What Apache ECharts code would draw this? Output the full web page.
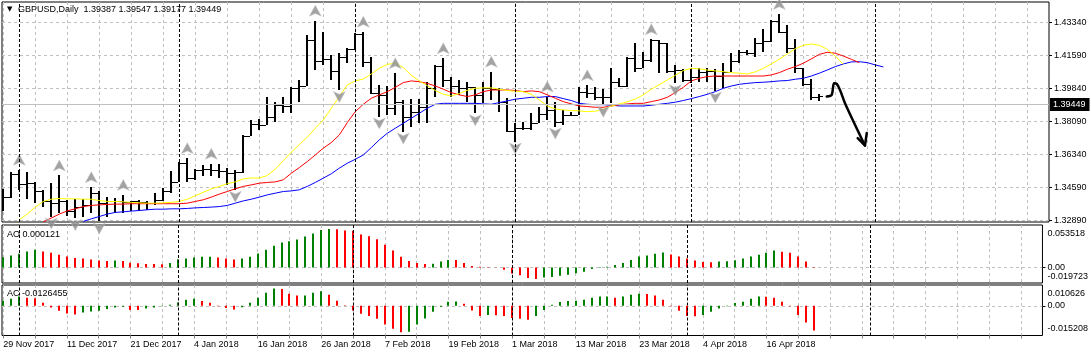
<!DOCTYPE html>
<html><head><meta charset="utf-8">
<script src="https://cdn.jsdelivr.net/npm/echarts@6/dist/echarts.min.js"></script>
<style>html,body{margin:0;padding:0;background:#fff}#c{width:1091px;height:357px}</style>
</head><body><div id="c"></div>
<script>
// ---------------- data ----------------
const symbolName = 'GBPUSD,Daily';
const barOpen = [1.3394,1.3408,1.3530,1.3477,1.3482,1.3443,1.3388,1.3376,1.3385,1.3332,
1.3358,1.3367,1.3429,1.3376,1.3385,1.3385,1.3380,1.3385,1.3380,1.3376,
1.3394,1.3438,1.3491,1.3588,1.3509,1.3551,1.3556,1.3553,1.3549,1.3535,
1.3539,1.3733,1.3797,1.3792,1.3832,1.3898,1.3892,1.3986,1.3998,1.4242,
1.4133,1.4140,1.4078,1.4154,1.4193,1.4272,1.4127,1.3963,1.3951,1.3880,
1.3915,1.3836,1.3862,1.3889,1.3986,1.4104,1.4030,1.3998,1.3986,1.3995,
1.3951,1.3986,1.3981,1.3915,1.3760,1.3774,1.3777,1.3804,1.3850,1.3871,
1.3809,1.3845,1.3845,1.3968,1.3959,1.3942,1.3938,1.4021,1.3998,1.4145,
1.4092,1.4136,1.4242,1.4225,1.4078,1.4083,1.4030,1.4044,1.4074,1.4080,
1.4051,1.4074,1.4131,1.4180,1.4175,1.4228,1.4239,1.4343,1.4286,1.4198,
1.4092,1.4009,1.39387];
const barHigh = [1.3450,1.3544,1.3553,1.3541,1.3486,1.3447,1.3482,1.3523,1.3394,1.3397,
1.3397,1.3461,1.3443,1.3411,1.3401,1.3420,1.3388,1.3392,1.3388,1.3429,
1.3454,1.3548,1.3593,1.3615,1.3556,1.3579,1.3585,1.3583,1.3562,1.3553,
1.3738,1.3818,1.3823,1.3942,1.3915,1.3942,1.3991,1.4030,1.4269,1.4345,
1.4286,1.4163,1.4172,1.4198,1.4281,1.4286,1.4154,1.4004,1.3998,1.4066,
1.3924,1.3929,1.3929,1.4021,1.4110,1.4145,1.4048,1.4030,1.4021,1.3995,
1.4021,1.4074,1.3986,1.3933,1.3800,1.3809,1.3853,1.3889,1.3942,1.3915,
1.3871,1.3862,1.3991,1.4002,1.3991,1.3981,1.4092,1.4039,1.4154,1.4225,
1.4180,1.4246,1.4242,1.4228,1.4110,1.4088,1.4092,1.4092,1.4092,1.4089,
1.4119,1.4172,1.4189,1.4189,1.4251,1.4299,1.4348,1.4380,1.4322,1.4246,
1.4092,1.4034,1.39547];
const barLow = [1.3335,1.3403,1.3447,1.3397,1.3376,1.3358,1.3305,1.3323,1.3310,1.3297,
1.3302,1.3323,1.3279,1.3305,1.3323,1.3323,1.3332,1.3337,1.3341,1.3367,
1.3385,1.3429,1.3491,1.3491,1.3500,1.3518,1.3518,1.3509,1.3473,1.3447,
1.3535,1.3730,1.3765,1.3792,1.3809,1.3853,1.3853,1.3915,1.3998,1.4083,
1.4110,1.4030,1.3977,1.4119,1.4189,1.4101,1.3956,1.3836,1.3845,1.3845,
1.3756,1.3783,1.3800,1.3800,1.3942,1.3995,1.3942,1.3951,1.3915,1.3853,
1.3906,1.3924,1.3862,1.3756,1.3703,1.3765,1.3765,1.3804,1.3818,1.3783,
1.3792,1.3839,1.3843,1.3933,1.3924,1.3898,1.3906,1.3995,1.3995,1.4074,
1.4092,1.4127,1.4066,1.4069,1.4012,1.4021,1.4016,1.4021,1.4021,1.3974,
1.3986,1.4074,1.4119,1.4163,1.4154,1.4180,1.4233,1.4281,1.4172,1.4069,
1.3998,1.3924,1.39177];
const barClose = [1.3408,1.3530,1.3477,1.3482,1.3443,1.3388,1.3376,1.3385,1.3332,1.3358,
1.3367,1.3429,1.3376,1.3385,1.3385,1.3380,1.3385,1.3380,1.3376,1.3394,
1.3438,1.3491,1.3588,1.3509,1.3551,1.3556,1.3553,1.3549,1.3535,1.3539,
1.3733,1.3797,1.3792,1.3832,1.3898,1.3892,1.3986,1.3998,1.4242,1.4133,
1.4140,1.4078,1.4154,1.4193,1.4272,1.4127,1.3963,1.3951,1.3880,1.3915,
1.3836,1.3862,1.3889,1.3986,1.4104,1.4030,1.3998,1.3986,1.3995,1.3951,
1.3986,1.3981,1.3915,1.3760,1.3774,1.3777,1.3804,1.3850,1.3871,1.3809,
1.3845,1.3845,1.3968,1.3959,1.3942,1.3938,1.4021,1.3998,1.4145,1.4092,
1.4136,1.4242,1.4225,1.4078,1.4083,1.4030,1.4044,1.4074,1.4080,1.4051,
1.4074,1.4131,1.4180,1.4175,1.4228,1.4239,1.4343,1.4286,1.4198,1.4092,
1.4009,1.3938,1.39449];

// Alligator lines (first bar index + values)
const lipsStart = 2;
const lipsValues = [1.3288,1.3318,1.3355,1.3385,1.3397,1.3401,1.3399,1.3399,1.3397,1.3397,
1.3390,1.3385,1.3385,1.3383,1.3380,1.3378,1.3376,1.3376,1.3378,1.3380,
1.3385,1.3397,1.3415,1.3434,1.3452,1.3465,1.3479,1.3489,1.3505,1.3510,
1.3509,1.3523,1.3556,1.3602,1.3647,1.3687,1.3726,1.3774,1.3818,1.3880,
1.3942,1.4004,1.4025,1.4035,1.4062,1.4092,1.4113,1.4119,1.4096,1.4055,
1.4025,1.4000,1.3974,1.3954,1.3945,1.3958,1.3975,1.3986,1.3988,1.3988,
1.3981,1.3974,1.3970,1.3968,1.3954,1.3924,1.3892,1.3876,1.3871,1.3868,
1.3866,1.3862,1.3864,1.3875,1.3892,1.3903,1.3914,1.3929,1.3951,1.3981,
1.4005,1.4030,1.4055,1.4080,1.4092,1.4089,1.4083,1.4078,1.4074,1.4069,
1.4066,1.4062,1.4073,1.4092,1.4115,1.4140,1.4168,1.4196,1.4214,1.4221,
1.4214,1.4193,1.4157,1.4113];
const teethStart = 5;
const teethValues = [1.3277,1.3297,1.3318,1.3335,1.3346,1.3358,1.3364,1.3367,1.3369,1.3371,
1.3371,1.3373,1.3373,1.3373,1.3373,1.3373,1.3373,1.3373,1.3376,1.3385,
1.3394,1.3408,1.3424,1.3438,1.3452,1.3465,1.3473,1.3482,1.3486,1.3489,
1.3500,1.3535,1.3565,1.3597,1.3632,1.3668,1.3698,1.3738,1.3804,1.3862,
1.3901,1.3933,1.3951,1.3968,1.3991,1.4016,1.4025,1.4021,1.4012,1.3998,
1.3981,1.3963,1.3951,1.3942,1.3951,1.3968,1.3977,1.3977,1.3977,1.3974,
1.3968,1.3972,1.3968,1.3951,1.3933,1.3915,1.3903,1.3892,1.3889,1.3885,
1.3885,1.3892,1.3898,1.3903,1.3906,1.3906,1.3915,1.3924,1.3938,1.3963,
1.3991,1.4025,1.4039,1.4048,1.4051,1.4051,1.4051,1.4051,1.4051,1.4051,
1.4051,1.4057,1.4069,1.4087,1.4101,1.4119,1.4142,1.4166,1.4177,1.4172,
1.4157,1.4140,1.4122];
const jawStart = 10;
const jawValues = [1.3279,1.3293,1.3305,1.3318,1.3327,1.3330,1.3334,1.3337,1.3341,1.3344,
1.3344,1.3346,1.3346,1.3348,1.3351,1.3353,1.3355,1.3358,1.3364,1.3376,
1.3388,1.3397,1.3408,1.3420,1.3429,1.3438,1.3441,1.3447,1.3465,1.3486,
1.3509,1.3532,1.3562,1.3588,1.3609,1.3632,1.3671,1.3712,1.3747,1.3774,
1.3800,1.3827,1.3853,1.3880,1.3901,1.3906,1.3906,1.3906,1.3906,1.3906,
1.3903,1.3901,1.3910,1.3919,1.3928,1.3933,1.3938,1.3938,1.3942,1.3942,
1.3931,1.3921,1.3906,1.3901,1.3899,1.3899,1.3896,1.3892,1.3892,1.3892,
1.3892,1.3896,1.3901,1.3906,1.3912,1.3921,1.3931,1.3942,1.3954,1.3968,
1.3986,1.3998,1.4007,1.4012,1.4016,1.4018,1.4021,1.4025,1.4027,1.4034,
1.4039,1.4051,1.4066,1.4083,1.4101,1.4115,1.4126,1.4127,1.4122,1.4110,
1.4099];

// Fractals (bar indices)
const fractalUp = [2,7,11,15,23,26,39,45,49,55,61,68,73,81,97];
const fractalDown = [6,9,12,29,42,47,50,59,64,69,75,84,89];

// Awesome / Accelerator oscillators
const aoValues = [0.0128,0.0150,0.0171,0.0201,0.0223,0.0201,0.0184,0.0158,0.0137,0.0120,
0.0111,0.0099,0.0086,0.0081,0.0086,0.0081,0.0060,0.0051,0.0043,0.0042,
0.0041,0.0056,0.0103,0.0111,0.0124,0.0133,0.0134,0.0124,0.0111,0.0099,
0.0111,0.0133,0.0176,0.0223,0.0274,0.0313,0.0330,0.0351,0.0390,0.0428,
0.0471,0.0484,0.0480,0.0467,0.0463,0.0415,0.0394,0.0355,0.0287,0.0214,
0.0133,0.0081,0.0056,0.0043,0.0047,0.0073,0.0094,0.0093,0.0056,0.0017,
0.0009,0.0004,-0.0002,-0.0030,-0.0077,-0.0099,-0.0133,-0.0146,-0.0128,-0.0120,
-0.0107,-0.0094,-0.0073,-0.0056,-0.0021,-0.0009,0.0009,0.0030,0.0056,0.0094,
0.0137,0.0150,0.0171,0.0188,0.0163,0.0137,0.0111,0.0086,0.0069,0.0064,
0.0073,0.0077,0.0090,0.0111,0.0137,0.0158,0.0184,0.0214,0.0197,0.0184,
0.0137,0.0073,0.000121];
const acValues = [0.0026,0.0036,0.0048,0.0041,0.0038,0.0016,-0.0009,-0.0026,-0.0040,-0.0045,
-0.0034,-0.0029,-0.0026,-0.0017,-0.0009,-0.0005,-0.0021,-0.0022,-0.0014,-0.0009,
-0.0003,0.0005,0.0017,0.0031,0.0036,0.0024,0.0016,-0.0003,-0.0012,-0.0019,
-0.0007,0.0016,0.0041,0.0067,0.0088,0.0086,0.0062,0.0052,0.0053,0.0067,
0.0074,0.0057,0.0026,0.0001,-0.0024,-0.0041,-0.0052,-0.0067,-0.0096,-0.0117,
-0.0136,-0.0133,-0.0096,-0.0065,-0.0031,-0.0005,0.0021,0.0022,0.0010,-0.0024,
-0.0052,-0.0047,-0.0048,-0.0052,-0.0062,-0.0067,-0.0072,-0.0052,-0.0021,0.0005,
0.0019,0.0024,0.0026,0.0031,0.0041,0.0047,0.0048,0.0041,0.0047,0.0057,
0.0062,0.0060,0.0052,0.0031,-0.0001,-0.0026,-0.0052,-0.0053,-0.0047,-0.0031,
-0.0014,-0.0002,0.0014,0.0021,0.0036,0.0047,0.0046,0.0041,0.0021,-0.0002,
-0.0047,-0.0086,-0.0126455];
const aoScale = [-0.019723, 0.053518];
const acScale = [-0.015208, 0.010626];

// Axis ticks / labels
const priceTicks = [1.3284,1.3459,1.3634,1.3809,1.3984,1.4159,1.4334];
const priceTickLabels = ['1.32890','1.34590','1.36340','1.38090','1.39840','1.41590','1.43340'];
const dateTickIdx = [0,8,16,24,32,40,48,56,64,72,80,88,96];
const dateTickLabels = ['29 Nov 2017','11 Dec 2017','21 Dec 2017','4 Jan 2018','16 Jan 2018','26 Jan 2018',
  '7 Feb 2018','19 Feb 2018','1 Mar 2018','13 Mar 2018','23 Mar 2018','4 Apr 2018','16 Apr 2018'];
const periodSeparators = [2,22,44,64,86,109];

// hand-drawn forecast arrow (bar index, price)
const arrowPath = [[102.93,1.3942],[103.55,1.3951],[103.84,1.4013],[104.18,1.4009],[104.59,1.3977],[105.21,1.3907],[107.71,1.3682]];
const arrowHead = [[106.8,1.3721],[107.71,1.3682],[107.93,1.3748]];

// ---------------- chart ----------------
const N = barClose.length;
const last = N - 1;
const FONT = 'Liberation Sans';
const X_MIN = -0.1625, X_MAX = 130.7125;
const gridTicks = []; for (let i = 0; i <= 128; i += 4) gridTicks.push(i);
const GRID_LINE = {color:'#c0c0c0', type:[3,3], width:1};
const SEP_LINE = {color:'#000', type:[3,2], width:1};
const GREEN = '#008000', RED = '#ff0000';

const ohlcData = barClose.map((c, i) => [i, barOpen[i], barHigh[i], barLow[i], c]);
const toLine = (start, vals) => vals.map((v, k) => [start + k, v]);
const histData = vals => vals.map((v, i) => [i, v, i === 0 ? 1 : (v >= vals[i-1] ? 1 : 0)]);

function xAxisCfg(gridIndex, showLabels) {
  return {
    type:'value', gridIndex, min:X_MIN, max:X_MAX, position:'bottom',
    axisLine:{show:false, onZero:false},
    axisTick: showLabels
      ? {show:true, length:3, lineStyle:{color:'#808080'}, customValues:gridTicks}
      : {show:false, customValues:gridTicks},
    axisLabel: showLabels ? {
      show:true, customValues:dateTickIdx, align:'left', margin:5,
      fontFamily:FONT, fontSize:9, color:'#000',
      formatter: v => dateTickLabels[dateTickIdx.indexOf(Math.round(v))] || ''
    } : {show:false},
    splitLine:{show:true, lineStyle:GRID_LINE}
  };
}
function subYAxis(gridIndex, scale, digits) {
  const [lo, hi] = scale;
  const base = {fontFamily:FONT, fontSize:9, color:'#000'};
  return {
    type:'value', gridIndex, position:'right', min:lo, max:hi,
    axisLine:{show:false, onZero:false},
    axisTick:{show:true, length:3, lineStyle:{color:'#000'}, customValues:[0]},
    splitLine:{show:true, lineStyle:GRID_LINE},
    axisLabel:{
      customValues:[lo, 0, hi], margin:5, ...base,
      formatter: v => v > 0 ? '{t|' + hi.toFixed(digits) + '}' : (v < 0 ? '{b|' + lo.toFixed(digits) + '}' : '{m|0.00}'),
      rich:{ t:{...base, padding:[18,0,0,0]}, b:{...base, padding:[0,0,13,0]}, m:{...base} }
    }
  };
}
function ohlcItem(params, api) {
  const i = api.value(0);
  const o = api.coord([i, api.value(1)]), h = api.coord([i, api.value(2)]);
  const l = api.coord([i, api.value(3)]), c = api.coord([i, api.value(4)]);
  const x = Math.round(h[0]);
  return {type:'group', children:[
    {type:'rect', shape:{x:x-1, y:Math.round(h[1]), width:2, height:Math.max(1, Math.round(l[1]) - Math.round(h[1]))}, style:{fill:'#000'}},
    {type:'rect', shape:{x:x-4, y:Math.round(o[1]), width:3, height:1}, style:{fill:'#000'}},
    {type:'rect', shape:{x:x+1, y:Math.round(c[1]), width:3, height:1}, style:{fill:'#000'}}
  ]};
}
function histItem(params, api) {
  const i = api.value(0), v = api.value(1);
  const top = api.coord([i, Math.max(v, 0)]), bot = api.coord([i, Math.min(v, 0)]);
  const x = Math.round(top[0]);
  return {type:'rect', shape:{x:x-1, y:top[1], width:2, height:Math.max(bot[1]-top[1], 0.4)},
          style:{fill: api.value(2) ? GREEN : RED}};
}
const sepMarkLine = extra => ({
  silent:true, symbol:'none', animation:false,
  label:{show:false}, lineStyle:SEP_LINE,
  data: periodSeparators.map(v => ({xAxis:v})).concat(extra || [])
});
const upSym = 'path://M6,0 L12,12 L6,9 L0,12 Z';
const downSym = 'path://M0,0 L6,3 L12,0 L6,12 Z';
const txt = {fontFamily:FONT, fontSize:9, color:'#000', fontWeight:'normal'};

const option = {
  animation:false,
  backgroundColor:'#fff',
  title:[
    {text:'{tri|▼}' + symbolName + '  ' + [barOpen[last], barHigh[last], barLow[last], barClose[last]].map(v => v.toFixed(5)).join(' '),
     left:7, top:5, padding:0,
     textStyle:{...txt, rich:{tri:{fontFamily:'DejaVu Sans', fontSize:7, color:'#000', width:11, align:'left'}}}},
    {text:'AO ' + aoValues[last].toFixed(6), left:7, top:230, padding:0, textStyle:txt},
    {text:'AC ' + acValues[last].toFixed(7), left:7, top:289, padding:0, textStyle:txt}
  ],
  grid:[
    {left:2, right:42, top:2, height:220, show:true, borderColor:'#000', borderWidth:1, backgroundColor:'#fff'},
    {left:2, right:42, top:225, height:58, show:true, borderColor:'#000', borderWidth:1, backgroundColor:'#fff'},
    {left:2, right:42, top:285, height:50.5, show:true, borderColor:'#000', borderWidth:1, backgroundColor:'#fff'}
  ],
  xAxis:[xAxisCfg(0,false), xAxisCfg(1,false), xAxisCfg(2,true)],
  yAxis:[
    {type:'value', gridIndex:0, position:'right', min:1.3276, max:1.4444,
     axisLine:{show:false, onZero:false},
     axisTick:{show:true, length:3, lineStyle:{color:'#000'}, customValues:priceTicks},
     axisLabel:{customValues:priceTicks, margin:5, fontFamily:FONT, fontSize:9, color:'#000',
       formatter: v => { const k = priceTicks.findIndex(p => Math.abs(p - v) < 1e-7); return k >= 0 ? priceTickLabels[k] : ''; }},
     splitLine:{show:true, lineStyle:GRID_LINE}},
    subYAxis(1, aoScale, 6),
    subYAxis(2, acScale, 6)
  ],
  series:[
    {type:'custom', name:'bars', xAxisIndex:0, yAxisIndex:0, clip:true, renderItem:ohlcItem,
     encode:{x:0, y:[1,2,3,4]}, data:ohlcData, z:2,
     markLine: sepMarkLine([{yAxis:barClose[last], lineStyle:{color:'#c0c0c0', type:'solid', width:1},
       label:{show:true, position:'end', distance:1, formatter: () => barClose[last].toFixed(5),
         backgroundColor:'#000', color:'#fff', fontFamily:FONT, fontSize:9, padding:[2,4,2,3]}}])},
    {type:'line', name:'jaw', xAxisIndex:0, yAxisIndex:0, data:toLine(jawStart, jawValues), symbol:'none',
     lineStyle:{color:'#0000ff', width:1}, clip:true, z:3},
    {type:'line', name:'teeth', xAxisIndex:0, yAxisIndex:0, data:toLine(teethStart, teethValues), symbol:'none',
     lineStyle:{color:'#ff0000', width:1}, clip:true, z:3},
    {type:'line', name:'lips', xAxisIndex:0, yAxisIndex:0, data:toLine(lipsStart, lipsValues), symbol:'none',
     lineStyle:{color:'#ffff00', width:1}, clip:true, z:3},
    {type:'scatter', name:'fractalUp', xAxisIndex:0, yAxisIndex:0, clip:true, symbol:upSym, symbolSize:[12,11],
     symbolOffset:[0,-10], itemStyle:{color:'#8c8c8c', borderColor:'#c8c8c8', borderWidth:0.6},
     data:fractalUp.map(i => [i, barHigh[i]]), z:4},
    {type:'scatter', name:'fractalDown', xAxisIndex:0, yAxisIndex:0, clip:true, symbol:downSym, symbolSize:[12,11],
     symbolOffset:[0,7], itemStyle:{color:'#8c8c8c', borderColor:'#c8c8c8', borderWidth:0.6},
     data:fractalDown.map(i => [i, barLow[i]]), z:4},
    {type:'line', name:'arrow', xAxisIndex:0, yAxisIndex:0, data:arrowPath, symbol:'none', smooth:0.3,
     lineStyle:{color:'#000', width:2.5, cap:'round', join:'round'}, z:5},
    {type:'line', name:'arrowHead', xAxisIndex:0, yAxisIndex:0, data:arrowHead, symbol:'none',
     lineStyle:{color:'#000', width:2.5, cap:'round', join:'round'}, z:5},
    {type:'custom', name:'AO', xAxisIndex:1, yAxisIndex:1, clip:true, renderItem:histItem,
     encode:{x:0, y:1}, data:histData(aoValues), markLine:sepMarkLine()},
    {type:'custom', name:'AC', xAxisIndex:2, yAxisIndex:2, clip:true, renderItem:histItem,
     encode:{x:0, y:1}, data:histData(acValues), markLine:sepMarkLine()}
  ]
};
const chart = echarts.init(document.getElementById('c'), null, {renderer:'canvas'});
chart.setOption(option);
</script>
</body></html>
